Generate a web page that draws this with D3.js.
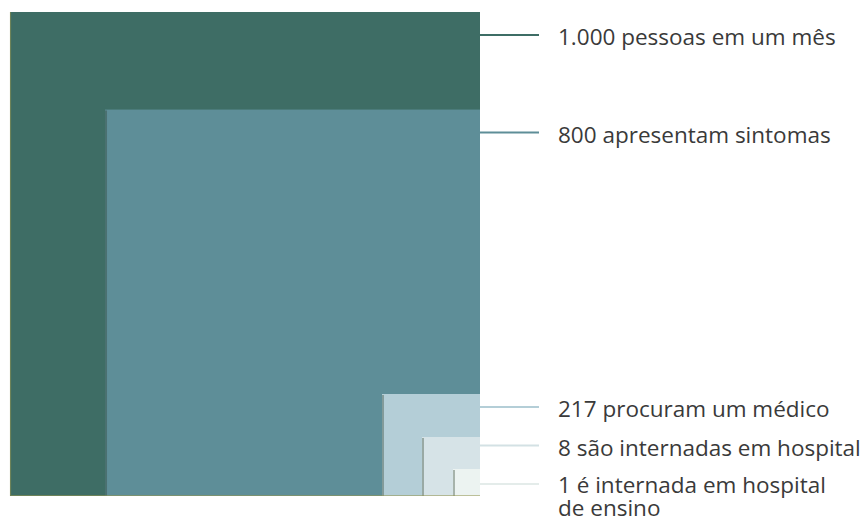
<!DOCTYPE html>
<html>
<head>
<meta charset="utf-8">
<script src="https://cdn.jsdelivr.net/npm/d3@7"></script>
<style>
  html, body { margin: 0; padding: 0; background: #ffffff; }
  svg { display: block; }
</style>
</head>
<body>
<svg id="chart" width="864" height="524"></svg>
<script>
// ---- data ----
const values = [1000, 800, 217, 8, 1];
const labels = [
  ["1.000 pessoas em um mês"],
  ["800 apresentam sintomas"],
  ["217 procuram um médico"],
  ["8 são internadas em hospital"],
  ["1 é internada em hospital", "de ensino"]
];
// ---- styles ----
const fills = ["#3e6d65", "#5e8e98", "#b4ced7", "#d6e3e7", "#ecf3f1"];
const leaderColors = ["#3e6d65", "#5e8e98", "#b4ced7", "#d3e1e4", "#e4ecea"];

const svg = d3.select("#chart");
const right = 480, bottom = 496;

// side length scales (the smallest groups are enlarged so they stay visible)
const wScale = d3.scaleLinear().domain([1, 8, 217, 1000]).range([27, 58, 98, 470]);
const hScale = d3.scaleLinear().domain([1, 8, 217, 1000]).range([27, 59, 102, 484]);

const data = values.map((v, i) => ({
  v, i,
  x: right - wScale(v),
  y: bottom - hScale(v),
  w: wScale(v),
  h: hScale(v)
}));

const g = svg.append("g");
g.selectAll("rect.sq").data(data).join("rect")
  .attr("class", "sq")
  .attr("x", d => d.x).attr("y", d => d.y)
  .attr("width", d => d.w).attr("height", d => d.h)
  .attr("fill", (d) => fills[d.i]);

// subtle left shading on the inner squares
g.selectAll("line.shade").data(data.slice(1)).join("line")
  .attr("class", "shade")
  .attr("x1", d => d.x + 1).attr("x2", d => d.x + 1)
  .attr("y1", d => d.y + 1).attr("y2", bottom)
  .attr("stroke", "rgba(40,60,40,0.35)")
  .attr("stroke-width", 2);

// thin olive border on left and bottom of outer square
const o = data[0];
g.append("path")
  .attr("d", `M${o.x + 0.5},${o.y} V${bottom - 0.5} H${right}`)
  .attr("fill", "none")
  .attr("stroke", "rgba(150,150,80,0.55)")
  .attr("stroke-width", 1.2);

// leader line positions: large groups near their top edge,
// small groups stacked evenly from the bottom
const nSmall = 3;
data.forEach((d, k) => {
  if (k < values.length - nSmall) d.ly = d.y + 23;
  else d.ly = bottom - 12 - 38.5 * (values.length - 1 - k);
});

g.selectAll("line.leader").data(data).join("line")
  .attr("class", "leader")
  .attr("x1", right).attr("x2", 539)
  .attr("y1", d => d.ly).attr("y2", d => d.ly)
  .attr("stroke", d => leaderColors[d.i])
  .attr("stroke-width", 2);

const txt = g.selectAll("text.lab").data(data).join("text")
  .attr("class", "lab")
  .attr("x", 558)
  .attr("y", d => d.ly + (labels[d.i].length > 1 ? 8.5 : 10))
  .attr("font-family", "'Open Sans', 'Noto Sans', sans-serif")
  .attr("font-size", 22.5)
  .attr("fill", "#3a3a3a");
txt.selectAll("tspan").data(d => labels[d.i]).join("tspan")
  .attr("x", 558)
  .attr("dy", (t, j) => j === 0 ? 0 : 23.5)
  .text(t => t);
</script>
</body>
</html>
